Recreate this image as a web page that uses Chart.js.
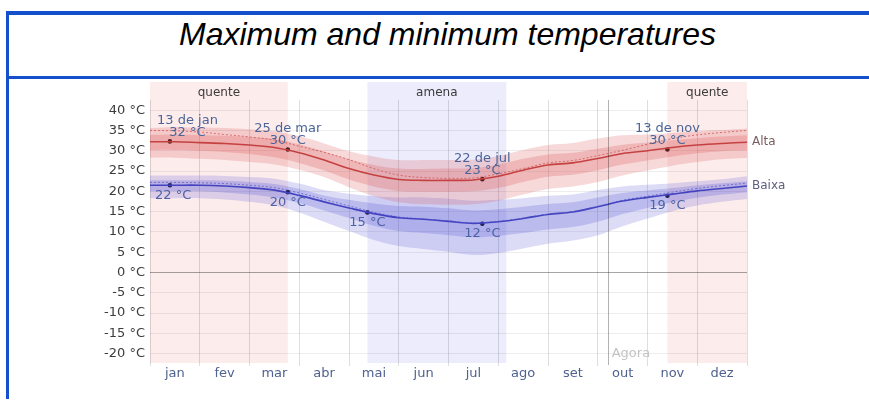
<!DOCTYPE html>
<html>
<head>
<meta charset="utf-8">
<script src="https://cdn.jsdelivr.net/npm/chart.js@4.4.0/dist/chart.umd.min.js"></script>
<style>
  html, body { margin: 0; padding: 0; background: #fff; }
  body { width: 869px; height: 401px; position: relative; overflow: hidden; }
  .rule { position: absolute; background: #1450cc; }
  #title {
    position: absolute; left: 0; width: 895px; top: 18px;
    text-align: center; color: #000;
    font: italic 32px "Liberation Sans", Arial, sans-serif; line-height: 32px;
  }
  #wrap { position: absolute; left: 0; top: 0; width: 869px; height: 401px; }
</style>
</head>
<body>
<div class="rule" style="left:6px; top:11px; width:863px; height:4px;"></div>
<div class="rule" style="left:6px; top:11px; width:3px; height:388px;"></div>
<div class="rule" style="left:6px; top:76px; width:863px; height:3px;"></div>
<div id="title">Maximum and minimum temperatures</div>
<div id="wrap"><canvas id="tempChart" width="869" height="401"></canvas></div>

<script>
// month positions (0 = 1 jan, 12 = 31 dez)
const months = ['jan', 'fev', 'mar', 'abr', 'mai', 'jun', 'jul', 'ago', 'set', 'out', 'nov', 'dez'];
const xs = [0, 0.5, 1, 1.5, 2, 2.5, 3, 3.5, 4, 4.5, 5, 5.5, 6, 6.5, 7, 7.5, 8, 8.5, 9, 9.5, 10, 10.5, 11, 11.5, 12];

// daily high (Alta)
const highAvg = [32.2, 32.2, 32.0, 31.8, 31.4, 30.8, 29.5, 27.7, 25.6, 24.0, 22.9, 22.7, 22.7, 22.8, 23.7, 25.2, 26.5, 27.0, 28.1, 29.3, 30.0, 30.8, 31.4, 31.8, 32.1];
const highP75 = [33.9, 34.0, 33.8, 33.7, 33.4, 32.9, 31.6, 29.8, 27.9, 26.5, 25.6, 25.5, 25.6, 25.7, 26.6, 28.0, 29.1, 29.5, 30.5, 31.5, 32.0, 32.6, 33.1, 33.5, 33.8];
const highP90 = [35.6, 35.8, 35.7, 35.6, 35.3, 34.8, 33.6, 31.8, 29.9, 28.6, 27.7, 27.7, 27.7, 27.8, 28.7, 30.2, 31.4, 31.9, 33.0, 33.8, 34.0, 34.4, 34.8, 35.1, 35.5];
const highP25 = [30.2, 30.2, 30.0, 29.7, 29.2, 28.4, 27.0, 25.1, 22.9, 21.2, 20.1, 19.9, 19.9, 20.0, 20.8, 22.3, 23.6, 24.1, 25.2, 26.6, 27.6, 28.6, 29.4, 29.9, 30.1];
const highP10 = [28.3, 28.3, 28.0, 27.7, 27.2, 26.6, 25.3, 23.5, 21.0, 18.8, 17.3, 16.8, 16.7, 16.8, 17.7, 19.2, 20.6, 21.2, 22.3, 23.9, 25.1, 26.3, 27.2, 27.9, 28.2];
const highFeel = [35.0, 34.9, 34.6, 34.0, 33.4, 32.6, 31.1, 29.6, 27.8, 25.6, 24.0, 23.4, 23.2, 23.3, 24.3, 25.6, 27.0, 27.6, 28.8, 30.1, 31.6, 33.0, 33.9, 34.5, 35.0];

// daily low (Baixa)
const lowAvg = [21.5, 21.5, 21.5, 21.3, 20.9, 20.3, 19.0, 17.4, 15.9, 14.5, 13.5, 13.1, 12.6, 12.1, 12.5, 13.3, 14.3, 14.9, 16.2, 17.6, 18.5, 19.3, 20.1, 20.7, 21.3];
const lowP75 = [22.7, 22.7, 22.7, 22.6, 22.3, 21.8, 20.6, 19.0, 17.9, 17.0, 16.4, 16.2, 15.8, 15.3, 15.6, 16.2, 16.9, 17.3, 18.5, 19.6, 20.2, 20.8, 21.5, 22.0, 22.5];
const lowP90 = [23.9, 23.9, 23.9, 23.8, 23.5, 23.1, 21.9, 20.3, 19.4, 18.8, 18.5, 18.5, 18.2, 17.7, 17.9, 18.3, 18.9, 19.2, 20.3, 21.2, 21.6, 22.0, 22.5, 23.0, 23.7];
const lowP25 = [20.0, 20.0, 20.0, 19.7, 19.2, 18.5, 17.1, 15.3, 13.4, 11.5, 10.2, 9.7, 9.2, 8.7, 9.0, 9.7, 10.6, 11.2, 12.5, 14.4, 15.9, 17.3, 18.4, 19.2, 19.8];
const lowP10 = [18.3, 18.3, 18.3, 18.0, 17.4, 16.5, 14.8, 12.5, 10.2, 8.0, 6.5, 5.8, 5.1, 4.3, 4.8, 5.9, 7.1, 7.9, 9.2, 11.4, 13.3, 15.1, 16.5, 17.4, 18.1];
const lowFeel = [22.2, 22.2, 22.1, 21.9, 21.5, 20.9, 19.6, 18.0, 16.4, 14.8, 13.7, 13.2, 12.7, 12.2, 12.6, 13.4, 14.4, 15.0, 16.3, 17.8, 18.8, 19.8, 20.7, 21.4, 22.0];

// highlighted days
const highMarkMonths = [0.4, 2.77, 6.68, 10.4];
const highMarkTemps = [32.3, 30.3, 23.0, 30.3];
const highMarkDates = ['13 de jan', '25 de mar', '22 de jul', '13 de nov'];
const highMarkLabels = ['32 °C', '30 °C', '23 °C', '30 °C'];
const lowMarkMonths = [0.4, 2.77, 4.37, 6.68, 10.4];
const lowMarkTemps = [21.5, 19.8, 14.8, 12.0, 18.9];
const lowMarkLabels = ['22 °C', '20 °C', '15 °C', '12 °C', '19 °C'];

// seasons
const seasonNames = ['quente', 'amena', 'quente'];
const seasonStart = [0, 4.37, 10.4];
const seasonEnd = [2.77, 7.16, 12];
const seasonColors = ['rgba(250,205,205,0.38)', 'rgba(210,210,248,0.42)', 'rgba(250,205,205,0.38)'];

const nowMonth = 9.2;
const yTicks = [-20, -15, -10, -5, 0, 5, 10, 15, 20, 25, 30, 35, 40];

const FONT = '"DejaVu Sans", Verdana, sans-serif';

function pts(ys) {
  return xs.map((x, i) => ({ x: x, y: ys[i] }));
}

function band(data, color, fill) {
  return {
    data: pts(data),
    borderWidth: 0,
    pointRadius: 0,
    tension: 0.35,
    backgroundColor: color,
    fill: fill ? '+1' : false
  };
}

const seasonPlugin = {
  id: 'seasons',
  beforeDraw(chart) {
    const { ctx, chartArea, scales } = chart;
    ctx.save();
    seasonNames.forEach((name, i) => {
      const x0 = scales.x.getPixelForValue(seasonStart[i]);
      const x1 = scales.x.getPixelForValue(seasonEnd[i]);
      ctx.fillStyle = seasonColors[i];
      ctx.fillRect(x0, 82, x1 - x0, chartArea.bottom - 82);
      ctx.fillStyle = '#3a3a3a';
      ctx.font = '12px ' + FONT;
      ctx.textAlign = 'center';
      ctx.textBaseline = 'middle';
      ctx.fillText(name, (x0 + x1) / 2, 93);
    });
    ctx.restore();
  }
};

const labelPlugin = {
  id: 'labels',
  afterDatasetsDraw(chart) {
    const { ctx, chartArea, scales } = chart;
    const x = scales.x, y = scales.y;
    ctx.save();
    ctx.textAlign = 'center';
    ctx.textBaseline = 'middle';
    ctx.font = '13px ' + FONT;

    // "now" line
    const nx = x.getPixelForValue(nowMonth);
    ctx.strokeStyle = 'rgba(0,0,0,0.3)';
    ctx.lineWidth = 1;
    ctx.beginPath();
    ctx.moveTo(Math.round(nx) + 0.5, chartArea.top);
    ctx.lineTo(Math.round(nx) + 0.5, chartArea.bottom + 2);
    ctx.stroke();
    ctx.fillStyle = '#c4c4c4';
    ctx.textAlign = 'left';
    ctx.fillText('Agora', nx + 4, 354);
    ctx.textAlign = 'center';

    highMarkMonths.forEach((m, i) => {
      const px = x.getPixelForValue(m);
      const py = y.getPixelForValue(highMarkTemps[i]);
      const w = ctx.measureText(highMarkDates[i]).width;
      const cx = Math.max(px, chartArea.left + 7 + w / 2);
      ctx.fillStyle = '#4a6599';
      ctx.fillText(highMarkDates[i], cx, py - 21);
      ctx.fillText(highMarkLabels[i], cx, py - 9);
    });

    lowMarkMonths.forEach((m, i) => {
      const px = x.getPixelForValue(m);
      const py = y.getPixelForValue(lowMarkTemps[i]);
      const w = ctx.measureText(lowMarkLabels[i]).width;
      const cx = Math.max(px, chartArea.left + 5 + w / 2);
      ctx.fillStyle = '#4d62a6';
      ctx.fillText(lowMarkLabels[i], cx, py + 10);
    });

    ctx.font = '12px ' + FONT;
    ctx.textAlign = 'left';
    ctx.fillStyle = '#7a5e5e';
    ctx.fillText('Alta', chartArea.right + 5, y.getPixelForValue(highAvg[highAvg.length - 1]));
    ctx.fillStyle = '#5e5e82';
    ctx.fillText('Baixa', chartArea.right + 5, y.getPixelForValue(lowAvg[lowAvg.length - 1]));
    ctx.restore();
  }
};

const RED_LIGHT = 'rgba(215,75,75,0.21)';
const RED_DARK = 'rgba(215,75,75,0.24)';
const BLUE_LIGHT = 'rgba(80,80,210,0.2)';
const BLUE_DARK = 'rgba(80,80,210,0.24)';

new Chart(document.getElementById('tempChart'), {
  type: 'line',
  data: {
    datasets: [
      band(highP90, RED_LIGHT, true),
      band(highP10, RED_LIGHT, false),
      band(highP75, RED_DARK, true),
      band(highP25, RED_DARK, false),
      band(lowP90, BLUE_LIGHT, true),
      band(lowP10, BLUE_LIGHT, false),
      band(lowP75, BLUE_DARK, true),
      band(lowP25, BLUE_DARK, false),
      {
        data: pts(highFeel), borderColor: 'rgba(205,90,90,0.8)', borderWidth: 1,
        borderDash: [2, 2], pointRadius: 0, tension: 0.35, fill: false
      },
      {
        data: pts(lowFeel), borderColor: 'rgba(80,80,200,0.7)', borderWidth: 1,
        borderDash: [2, 2], pointRadius: 0, tension: 0.35, fill: false
      },
      {
        data: pts(highAvg), borderColor: 'rgb(185,60,60)', borderWidth: 1.6,
        pointRadius: 0, tension: 0.35, fill: false
      },
      {
        data: pts(lowAvg), borderColor: 'rgb(60,60,180)', borderWidth: 1.6,
        pointRadius: 0, tension: 0.35, fill: false
      },
      {
        data: highMarkMonths.map((m, i) => ({ x: m, y: highMarkTemps[i] })),
        showLine: false, pointRadius: 2.3, pointBackgroundColor: '#000', pointBorderWidth: 0
      },
      {
        data: lowMarkMonths.map((m, i) => ({ x: m, y: lowMarkTemps[i] })),
        showLine: false, pointRadius: 2.3, pointBackgroundColor: '#000', pointBorderWidth: 0
      }
    ]
  },
  options: {
    responsive: false,
    animation: false,
    layout: { padding: { top: 100, right: 122, left: 0, bottom: 0 } },
    plugins: {
      legend: { display: false },
      tooltip: { enabled: false }
    },
    scales: {
      x: {
        type: 'linear', position: 'bottom', min: 0, max: 12, weight: 0,
        border: { display: false },
        grid: { color: 'rgba(0,0,0,0.13)', drawTicks: true, tickLength: 3 },
        ticks: { display: false },
        afterBuildTicks: (s) => { s.ticks = months.map((_, i) => ({ value: i })).concat([{ value: 12 }]); },
        afterFit: (s) => { s.height = 2; }
      },
      xm: {
        type: 'linear', position: 'bottom', min: 0, max: 12, weight: 1,
        border: { display: false },
        grid: { display: false, drawTicks: false },
        ticks: {
          color: '#4f6190', font: { family: FONT, size: 13 }, padding: 1,
          maxRotation: 0, autoSkip: false,
          callback: (v, i) => months[i]
        },
        afterBuildTicks: (s) => { s.ticks = months.map((_, i) => ({ value: i + 0.5 })); },
        afterFit: (s) => { s.height = 36; }
      },
      y: {
        type: 'linear', min: -22.3, max: 42.5,
        border: { display: false },
        grid: {
          drawTicks: false,
          color: (c) => (c.tick && c.tick.value === 0) ? 'rgba(0,0,0,0.35)' : 'rgba(0,0,0,0.07)'
        },
        ticks: {
          color: '#3c3c3c', font: { family: FONT, size: 13 }, padding: 5,
          callback: (v) => v + ' °C'
        },
        afterBuildTicks: (s) => { s.ticks = yTicks.map(v => ({ value: v })); },
        afterFit: (s) => { s.width = 150; }
      }
    }
  },
  plugins: [seasonPlugin, labelPlugin]
});
</script>
</body>
</html>
